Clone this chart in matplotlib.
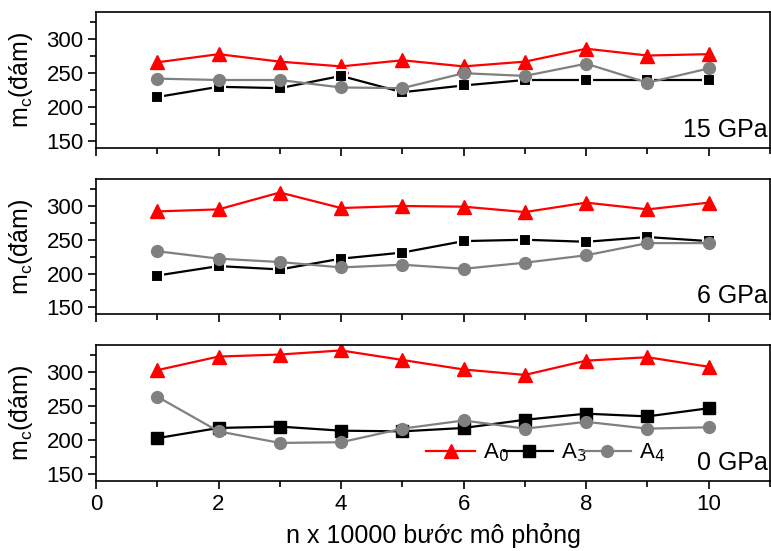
import matplotlib.pyplot as plt
import numpy as np
from matplotlib.ticker import MultipleLocator

plt.rcParams['font.family'] = ['Liberation Sans', 'DejaVu Sans']

steps = np.arange(1, 11)

# 15 GPa
a0_15 = [266, 278, 267, 260, 269, 260, 267, 286, 276, 278]
a3_15 = [215, 230, 228, 246, 222, 232, 240, 240, 240, 240]
a4_15 = [242, 240, 240, 229, 228, 250, 246, 264, 236, 257]

# 6 GPa
a0_6 = [292, 295, 320, 297, 300, 299, 291, 305, 295, 305]
a3_6 = [197, 211, 206, 222, 231, 248, 250, 247, 254, 248]
a4_6 = [233, 222, 217, 209, 213, 207, 216, 227, 245, 245]

# 0 GPa
a0_0 = [303, 323, 326, 332, 318, 304, 296, 317, 322, 308]
a3_0 = [203, 218, 220, 214, 213, 218, 230, 239, 235, 247]
a4_0 = [264, 213, 196, 197, 217, 229, 217, 227, 217, 219]

panels = [
    ("15 GPa", a0_15, a3_15, a4_15),
    ("6 GPa", a0_6, a3_6, a4_6),
    ("0 GPa", a0_0, a3_0, a4_0),
]

fig = plt.figure(figsize=(7.71, 5.51), dpi=100)
tops = [12, 179, 345]
bots = [148, 314, 481]
W, H = 771, 551

axes = []
for i, (lab, a0, a3, a4) in enumerate(panels):
    ax = fig.add_axes([96 / W, 1 - bots[i] / H, 674 / W, (bots[i] - tops[i]) / H])
    gap = i < 2
    ax.plot(steps, a0, color='red', marker='^', ms=9.5, lw=1.6, label='A$_0$')
    ax.plot(steps, a3, color='black', marker='s', ms=8, lw=1.6, label='A$_3$',
            mec='white' if gap else 'black', mew=1.5 if gap else 1)
    ax.plot(steps, a4, color='#808080', marker='o', ms=8.5, lw=1.6, label='A$_4$')
    ax.set_xlim(0, 11)
    ax.set_ylim(140, 340)
    ax.set_yticks([150, 200, 250, 300])
    ax.yaxis.set_minor_locator(MultipleLocator(25))
    ax.set_xticks([0, 2, 4, 6, 8, 10])
    ax.xaxis.set_minor_locator(MultipleLocator(1))
    ax.tick_params(which='both', direction='out', right=False, top=False, labelsize=16)
    ax.tick_params(which='major', length=6, width=1.2, pad=3)
    ax.tick_params(which='minor', length=4, width=1.2)
    for s in ax.spines.values():
        s.set_linewidth(1.2)
    ax.set_ylabel('m$_\\mathregular{c}$(đám)', fontsize=18)
    ax.text(0.997, 0.13, lab, transform=ax.transAxes, ha='right', va='center', fontsize=18)
    if i < 2:
        ax.tick_params(labelbottom=False)
    axes.append(ax)

ax = axes[2]
ax.set_xlabel('n x 10000 bước mô phỏng', fontsize=18, labelpad=6)
ax.legend(ncol=3, frameon=False, loc='center left', bbox_to_anchor=(0.49, 0.205),
          fontsize=16, handlelength=2.2, handletextpad=0.35, columnspacing=-0.2,
          borderaxespad=0, borderpad=0)
for a in axes:
    a.yaxis.set_label_coords(-0.09, 0.5)

fig.savefig('out.png', dpi=100)
